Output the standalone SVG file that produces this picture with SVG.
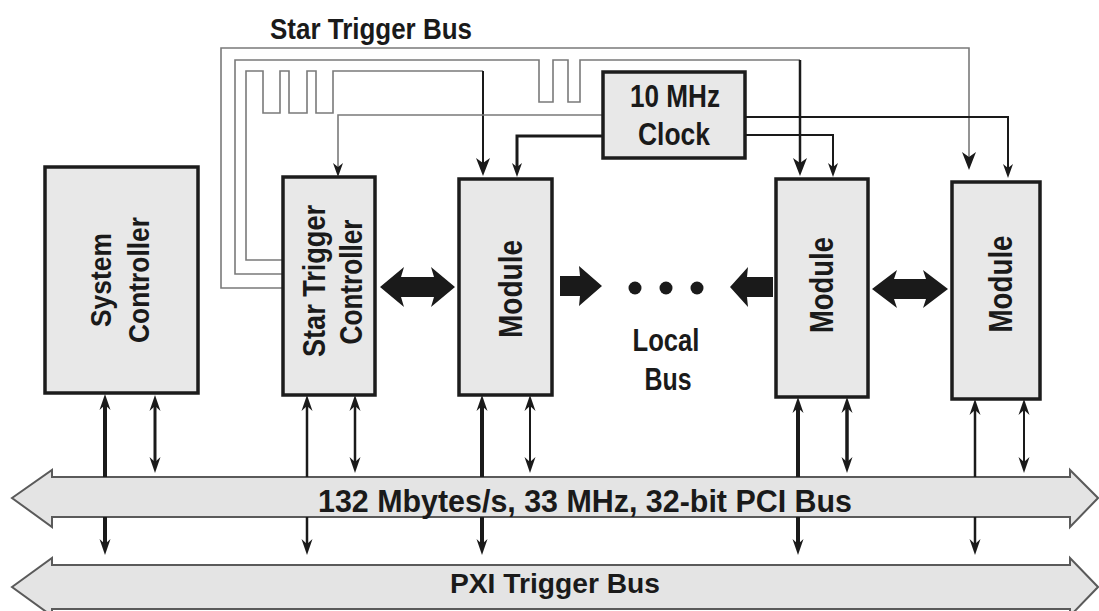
<svg xmlns="http://www.w3.org/2000/svg" width="1099" height="611" viewBox="0 0 1099 611">
<style>
.box{fill:#e8e8e8;stroke:#1c1c1c;stroke-width:3.5}
.bus{fill:#e4e4e4;stroke:#5a5a5a;stroke-width:2}
.t{font-family:"Liberation Sans Narrow","Liberation Sans",Arial,sans-serif;font-weight:bold;fill:#1a1a1a}
.c{fill:none;stroke:#1a1a1a}
.g{fill:none;stroke:#7a7a7a;stroke-width:1.6}
.blk{fill:#1a1a1a}
</style>
<defs>
<marker id="ah" viewBox="-12 -7 20 14" refX="0" refY="0" markerWidth="20" markerHeight="14" markerUnits="userSpaceOnUse" orient="auto-start-reverse">
<path d="M6,0 L-10,-5.5 L-5,0 L-10,5.5 Z" fill="#1a1a1a"/>
</marker>
<marker id="ahs" viewBox="-12 -7 20 14" refX="0" refY="0" markerWidth="20" markerHeight="14" markerUnits="userSpaceOnUse" orient="auto">
<path d="M6,0 L-8,-5 L-4,0 L-8,5 Z" fill="#1a1a1a"/>
</marker>
<marker id="ahb" viewBox="-14 -8 22 16" refX="0" refY="0" markerWidth="22" markerHeight="16" markerUnits="userSpaceOnUse" orient="auto">
<path d="M6,0 L-12,-7 L-7,0 L-12,7 Z" fill="#1a1a1a"/>
</marker>
</defs>

<text class="t" x="270" y="39" font-size="29" textLength="202" lengthAdjust="spacingAndGlyphs">Star Trigger Bus</text>

<g id="pci-bus">
<polygon class="bus" points="12,498 52,470 52,477 1070,477 1070,470 1098,498 1070,527 1070,517 52,517 52,527"/>
<text class="t" x="318" y="512" font-size="31" textLength="534" lengthAdjust="spacingAndGlyphs">132 Mbytes/s, 33 MHz, 32-bit PCI Bus</text>
</g>
<g id="pxi-bus">
<polygon class="bus" points="12,587 52,558 52,565 1070,565 1070,558 1098,587 1070,616 1070,609 52,609 52,616"/>
<text class="t" x="450" y="593" font-size="27" textLength="210" lengthAdjust="spacingAndGlyphs">PXI Trigger Bus</text>
</g>

<g id="connectors">
<path class="g" d="M283,288 H221 V48 H969 V164" stroke="#8c8c8c" marker-end="url(#ahb)"/>
<path class="g" d="M283,274 H235 V60 H539 V102 H553 V60 H568 V102 H580 V60 H800"/>
<path class="c" stroke-width="2.5" d="M800,60 V170" marker-end="url(#ahb)"/>
<path class="g" d="M283,260 H246 V71 H263 V113 H280 V71 H289 V113 H307 V71 H316 V113 H333 V71 H483" stroke="#666"/>
<path class="c" stroke-width="2" d="M483,71 V170" marker-end="url(#ahb)"/>
<path class="g" d="M603,115 H338 V171" stroke="#666" marker-end="url(#ahs)"/>
<path class="c" stroke-width="3" d="M603,136 H517 V171" marker-end="url(#ahs)"/>
<path class="c" stroke-width="2" d="M745,135 H833 V171" marker-end="url(#ahs)"/>
<path class="c" stroke-width="2" d="M745,117 H1008 V172" marker-end="url(#ahs)"/>

<polygon class="blk" points="380,287 404,267 401,277 434,277 431,267 455,287 431,307 434,297 401,297 404,307"/>
<polygon class="blk" points="560,276 580,276 579,266 602,286 579,306 580,296 560,296"/>
<polygon class="blk" points="730,287 748,267 747,277 773,277 773,297 747,297 748,307"/>
<polygon class="blk" points="872,289 897,270 894,279 926,279 923,270 948,289 923,308 926,299 894,299 897,308"/>
<circle class="blk" cx="635" cy="288" r="6.5"/>
<circle class="blk" cx="666" cy="288" r="6.5"/>
<circle class="blk" cx="697" cy="288" r="6.5"/>

<path class="c" stroke-width="4" d="M105,477 V400" marker-end="url(#ah)"/>
<path class="c" stroke-width="4" d="M105,517 V549" marker-end="url(#ah)"/>
<path class="c" stroke-width="3" d="M155,401 V467" marker-start="url(#ah)" marker-end="url(#ah)"/>

<path class="c" stroke-width="2.5" d="M307,477 V401" marker-end="url(#ah)"/>
<path class="c" stroke-width="2.5" d="M307,517 V549" marker-end="url(#ah)"/>
<path class="c" stroke-width="2.5" d="M355,401 V467" marker-start="url(#ah)" marker-end="url(#ah)"/>

<path class="c" stroke-width="4" d="M482,477 V401" marker-end="url(#ah)"/>
<path class="c" stroke-width="4" d="M482,517 V549" marker-end="url(#ah)"/>
<path class="c" stroke-width="2" d="M530,401 V467" marker-start="url(#ah)" marker-end="url(#ah)"/>

<path class="c" stroke-width="4" d="M798,477 V403" marker-end="url(#ah)"/>
<path class="c" stroke-width="4" d="M798,517 V549" marker-end="url(#ah)"/>
<path class="c" stroke-width="3.5" d="M847,403 V467" marker-start="url(#ah)" marker-end="url(#ah)"/>

<path class="c" stroke-width="2.5" d="M975,477 V405" marker-end="url(#ah)"/>
<path class="c" stroke-width="2.5" d="M975,517 V549" marker-end="url(#ah)"/>
<path class="c" stroke-width="2" d="M1024,405 V467" marker-start="url(#ah)" marker-end="url(#ah)"/>
</g>

<g id="system-controller">
<rect class="box" x="45" y="167" width="153" height="226"/>
<text class="t" font-size="30" text-anchor="middle" transform="translate(111,280) rotate(-90)" textLength="94" lengthAdjust="spacingAndGlyphs">System</text>
<text class="t" font-size="30" text-anchor="middle" transform="translate(149,280) rotate(-90)" textLength="126" lengthAdjust="spacingAndGlyphs">Controller</text>
</g>

<g id="star-trigger-controller">
<rect class="box" x="283" y="177" width="92" height="218"/>
<text class="t" font-size="32" text-anchor="middle" transform="translate(325,281) rotate(-90)" textLength="152" lengthAdjust="spacingAndGlyphs">Star Trigger</text>
<text class="t" font-size="32" text-anchor="middle" transform="translate(362,282) rotate(-90)" textLength="125" lengthAdjust="spacingAndGlyphs">Controller</text>
</g>

<g id="module-1">
<rect class="box" x="459" y="179" width="93" height="216"/>
<text class="t" font-size="34" text-anchor="middle" transform="translate(522,289) rotate(-90)" textLength="98" lengthAdjust="spacingAndGlyphs">Module</text>
</g>

<g id="clock">
<rect class="box" x="603" y="72" width="142" height="86"/>
<text class="t" font-size="31" text-anchor="middle" x="675" y="107" textLength="90" lengthAdjust="spacingAndGlyphs">10 MHz</text>
<text class="t" font-size="31" text-anchor="middle" x="674" y="145" textLength="72" lengthAdjust="spacingAndGlyphs">Clock</text>
</g>

<g id="local-bus-label">
<text class="t" font-size="31" text-anchor="middle" x="666" y="351" textLength="67" lengthAdjust="spacingAndGlyphs">Local</text>
<text class="t" font-size="31" text-anchor="middle" x="668" y="390" textLength="47" lengthAdjust="spacingAndGlyphs">Bus</text>
</g>

<g id="module-2">
<rect class="box" x="776" y="179" width="92" height="218"/>
<text class="t" font-size="34" text-anchor="middle" transform="translate(833,285) rotate(-90)" textLength="96" lengthAdjust="spacingAndGlyphs">Module</text>
</g>

<g id="module-3">
<rect class="box" x="952" y="182" width="88" height="217"/>
<text class="t" font-size="34" text-anchor="middle" transform="translate(1012,284) rotate(-90)" textLength="97" lengthAdjust="spacingAndGlyphs">Module</text>
</g>
</svg>
